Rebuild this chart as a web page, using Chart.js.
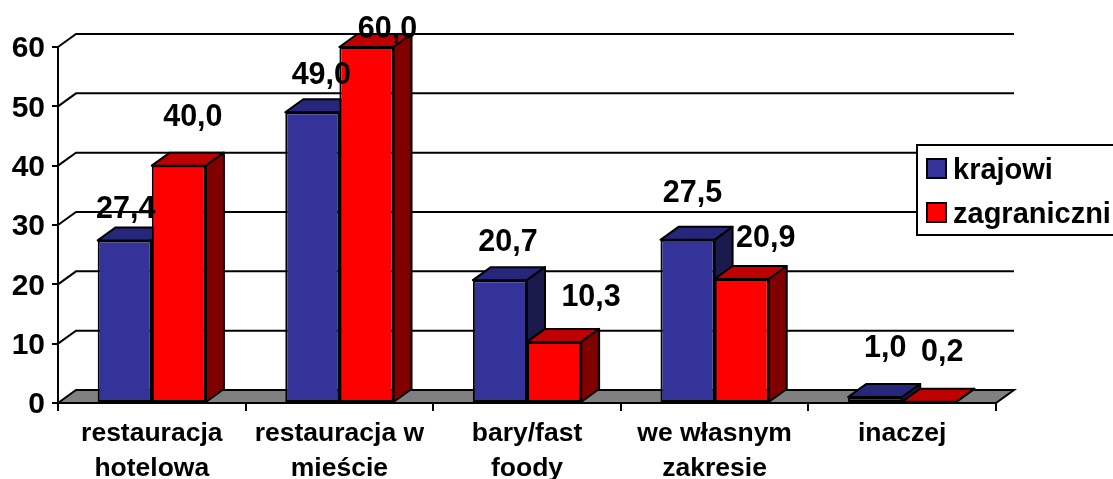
<!DOCTYPE html>
<html lang="pl">

<head>
  <meta charset="UTF-8">
  <title>krajowi / zagraniczni</title>
  <script src="https://cdn.jsdelivr.net/npm/chart.js"></script>
  <style>
    body {
      margin: 0;
      background: #fff;
      overflow: hidden;
    }

    canvas {
      display: block;
    }
  </style>
</head>

<body>
  <canvas id="chart" width="1113" height="479"></canvas>

  <script>
    const categories = [
      ['restauracja', 'hotelowa'],
      ['restauracja w', 'mieście'],
      ['bary/fast', 'foody'],
      ['we własnym', 'zakresie'],
      'inaczej'
    ];
    const krajowi = [27.4, 49.0, 20.7, 27.5, 1.0];
    const zagraniczni = [40.0, 60.0, 10.3, 20.9, 0.2];
    const seriesNames = ['krajowi', 'zagraniczni'];

    const FONT = '"Liberation Sans", Arial, sans-serif';

    // how far the 3D box goes back
    const depthX = 18;
    const depthY = 13;

    // faces: front, top, side
    const faces = [
      ['#333399', '#26267a', '#1a1a4d'],
      ['#ff0000', '#bf0000', '#800000']
    ];

    // hand placed labels in the original, shift from top of each bar
    const labelShift = [
      [[0, -31], [8, -37], [7, -38], [4, -46], [9, -48]],
      [[13, -48], [20, -17], [36, -44], [23, -40], [12, -49]]
    ];

    function poly(ctx, pts, fill) {
      ctx.beginPath();
      pts.forEach((p, i) => i ? ctx.lineTo(p[0], p[1]) : ctx.moveTo(p[0], p[1]));
      ctx.closePath();
      ctx.fillStyle = fill;
      ctx.fill();
      ctx.stroke();
    }

    const box3d = {
      id: 'box3d',
      // back grid, left wall lines, floor, then top and side of the boxes.
      // chart.js paints dataset 0 last, its front does not overlap the red faces
      beforeDatasetsDraw(chart) {
        const { ctx, chartArea: a, scales: { y } } = chart;
        ctx.save();
        ctx.strokeStyle = '#000';
        ctx.lineWidth = 2;
        y.ticks.forEach(t => {
          const py = y.getPixelForValue(t.value);
          if (t.value > 0) {
            ctx.beginPath();
            ctx.moveTo(a.left, py);
            ctx.lineTo(a.left + depthX, py - depthY);
            ctx.lineTo(a.right + depthX, py - depthY);
            ctx.stroke();
          }
        });
        poly(ctx, [
          [a.left, a.bottom],
          [a.left + depthX, a.bottom - depthY],
          [a.right + depthX, a.bottom - depthY],
          [a.right, a.bottom]
        ], '#808080');

        ctx.lineJoin = 'round';
        krajowi.forEach((_, i) => {
          faces.forEach((colors, d) => {
            const bar = chart.getDatasetMeta(d).data[i];
            const l = bar.x - bar.width / 2;
            const r = bar.x + bar.width / 2;
            poly(ctx, [[l, bar.y], [l + depthX, bar.y - depthY], [r + depthX, bar.y - depthY], [r, bar.y]], colors[1]);
            poly(ctx, [[r, bar.y], [r + depthX, bar.y - depthY], [r + depthX, bar.base - depthY], [r, bar.base]], colors[2]);
          });
        });
        ctx.restore();
      },
      afterDatasetsDraw(chart) {
        const { ctx } = chart;
        ctx.save();
        // value labels
        ctx.fillStyle = '#000';
        ctx.font = 'bold 30.5px ' + FONT;
        ctx.textAlign = 'center';
        ctx.textBaseline = 'middle';
        chart.data.datasets.forEach((ds, d) => {
          chart.getDatasetMeta(d).data.forEach((bar, i) => {
            const shift = labelShift[d][i];
            ctx.fillText(ds.data[i].toFixed(1).replace('.', ','), bar.x + shift[0] + 1, bar.y + shift[1]);
          });
        });
        // legend box
        ctx.strokeStyle = '#000';
        ctx.lineWidth = 2;
        ctx.fillStyle = '#fff';
        ctx.fillRect(917, 145, 200, 90);
        ctx.strokeRect(917, 145, 200, 90);
        ctx.textAlign = 'left';
        seriesNames.forEach((name, i) => {
          const top = 159 + i * 44;
          ctx.fillStyle = faces[i][0];
          ctx.fillRect(927, top, 19, 19);
          ctx.strokeRect(927, top, 19, 19);
          ctx.fillStyle = '#000';
          ctx.font = 'bold 29px ' + FONT;
          ctx.fillText(name, 953, top + 12);
        });
        ctx.restore();
      }
    };

    new Chart(document.getElementById('chart'), {
      type: 'bar',
      data: {
        labels: categories,
        datasets: [{
          label: seriesNames[0],
          data: krajowi,
          backgroundColor: faces[0][0]
        }, {
          label: seriesNames[1],
          data: zagraniczni,
          backgroundColor: faces[1][0]
        }]
      },
      options: {
        responsive: false,
        animation: false,
        clip: false,
        layout: {
          padding: { top: 47, right: 117 }
        },
        datasets: {
          bar: {
            categoryPercentage: 0.577,
            barPercentage: 1,
            borderColor: '#000',
            borderWidth: 2,
            borderSkipped: false
          }
        },
        plugins: {
          legend: { display: false },
          tooltip: { enabled: false }
        },
        scales: {
          x: {
            afterFit(scale) { scale.height = 76; },
            border: { display: true, color: '#000', width: 2 },
            grid: { drawOnChartArea: false, color: '#000', lineWidth: 2, tickLength: 8 },
            ticks: {
              color: '#000',
              maxRotation: 0,
              autoSkip: false,
              padding: 5,
              font: { family: FONT, size: 26.5, weight: 'bold', lineHeight: 1.32 }
            }
          },
          y: {
            min: 0,
            max: 60,
            afterFit(scale) { scale.width = 58; },
            border: { display: true, color: '#000', width: 2 },
            grid: { drawOnChartArea: false, color: '#000', lineWidth: 2, tickLength: 6 },
            ticks: {
              color: '#000',
              stepSize: 10,
              padding: 7,
              labelOffset: 2,
              font: { family: FONT, size: 30, weight: 'bold' }
            }
          }
        }
      },
      plugins: [box3d]
    });
  </script>
</body>

</html>
